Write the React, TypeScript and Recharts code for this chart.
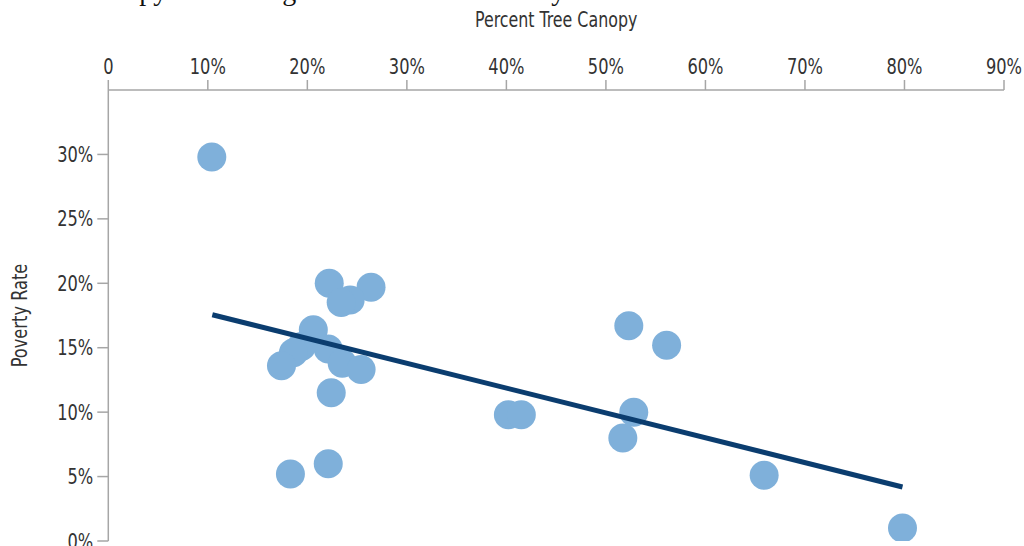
import React from 'react';
import { ScatterChart, Scatter, XAxis, YAxis, Label } from 'recharts';

// Percent tree canopy (x) and poverty rate (y) for each city
const canopy = [10.4, 22.2, 26.4, 24.3, 23.4, 20.6, 19.4, 18.6, 17.4, 22.1, 23.5, 25.4, 22.4, 18.3, 22.1, 40.2, 41.5, 52.3, 56.1, 52.8, 51.7, 65.9, 79.8];
const poverty = [29.8, 20.0, 19.7, 18.7, 18.5, 16.4, 15.1, 14.6, 13.6, 14.9, 13.8, 13.3, 11.5, 5.2, 6.0, 9.8, 9.8, 16.7, 15.2, 10.0, 8.0, 5.1, 1.0];

// Trend line end points
const trendCanopy = [10.45, 79.8];
const trendPoverty = [17.56, 4.19];

const xTicks = [0, 10, 20, 30, 40, 50, 60, 70, 80, 90];
const yTicks = [0, 5, 10, 15, 20, 25, 30];

const xTitle = 'Percent Tree Canopy';
const yTitle = 'Poverty Rate';
const caption = 'Tree canopy and average income across the city';

const points = canopy.map((x, i) => ({ x, y: poverty[i] }));
const trend = trendCanopy.map((x, i) => ({ x, y: trendPoverty[i] }));

const FONT = "'Liberation Sans Narrow', 'DejaVu Sans Condensed', 'Arial Narrow', sans-serif";
const TEXT = '#333333';
const AXIS = '#a6a6a6';
const DOT = '#7fb0da';
const LINE = '#0b3d6f';
const SX = 0.86;

const XTick = (props: any) => {
  const { x, y, payload } = props;
  const v = payload.value;
  return (
    <text transform={`translate(${x},${y}) scale(${SX},1)`} x={0} y={0} textAnchor="middle" fontFamily={FONT} fontSize={21} fill={TEXT}>
      {v === 0 ? '0' : `${v}%`}
    </text>
  );
};

const YTick = (props: any) => {
  const { x, y, payload } = props;
  return (
    <text transform={`translate(${x},${y}) scale(${SX},1)`} x={0} y={0} dy="0.36em" textAnchor="end" fontFamily={FONT} fontSize={21} fill={TEXT}>
      {`${payload.value}%`}
    </text>
  );
};

const XTitle = (props: any) => {
  const vb = props.viewBox || { x: 108, y: 0, width: 896, height: 90 };
  const cx = vb.x + vb.width / 2;
  return (
    <text transform={`translate(${cx},26.5) scale(0.84,1)`} x={0} y={0} textAnchor="middle" fontFamily={FONT} fontSize={21} fill={TEXT}>
      {xTitle}
    </text>
  );
};

const YTitle = (props: any) => {
  const vb = props.viewBox || { x: 30, y: 90, width: 78, height: 451 };
  const cy = vb.y + vb.height / 2;
  const cx = 27;
  return (
    <text transform={`translate(${cx},${cy}) rotate(-90) scale(0.86,1)`} x={0} y={0} textAnchor="middle" fontFamily={FONT} fontSize={21} fill={TEXT}>
      {yTitle}
    </text>
  );
};

export default function App() {
  return (
    <div style={{ position: 'absolute', left: 0, top: 0, width: 1024, height: 546, overflow: 'hidden', background: '#fff' }}>
      <ScatterChart width={1024} height={546} margin={{ top: 0, right: 20, bottom: 5, left: 30 }}>
        <XAxis
          type="number"
          dataKey="x"
          orientation="top"
          domain={[0, 90]}
          ticks={xTicks}
          interval={0}
          height={90}
          tickSize={10}
          tickMargin={6}
          axisLine={{ stroke: AXIS, strokeWidth: 1.5 }}
          tickLine={{ stroke: AXIS, strokeWidth: 1.5 }}
          tick={<XTick />}
          allowDataOverflow
        >
          <Label content={<XTitle />} />
        </XAxis>
        <YAxis
          type="number"
          dataKey="y"
          domain={[0, 35]}
          ticks={yTicks}
          interval={0}
          width={78.3}
          tickSize={11}
          tickMargin={4}
          axisLine={{ stroke: AXIS, strokeWidth: 1.5 }}
          tickLine={{ stroke: AXIS, strokeWidth: 1.5 }}
          tick={<YTick />}
          allowDataOverflow
        >
          <Label content={<YTitle />} />
        </YAxis>
        <Scatter
          data={points}
          fill={DOT}
          isAnimationActive={false}
          shape={(p: any) => <circle cx={p.cx} cy={p.cy} r={14.5} fill={DOT} />}
        />
        <Scatter
          data={trend}
          fill={LINE}
          isAnimationActive={false}
          line={{ stroke: LINE, strokeWidth: 5 }}
          lineType="joint"
          shape={() => <g />}
        />
      </ScatterChart>
      <svg width={1024} height={20} style={{ position: 'absolute', left: 0, top: 0, pointerEvents: 'none' }}>
        <text x={29} y={0} fontFamily="'Liberation Serif', 'Times New Roman', serif" fontSize={28} fill="#111">
          {caption}
        </text>
      </svg>
    </div>
  );
}
